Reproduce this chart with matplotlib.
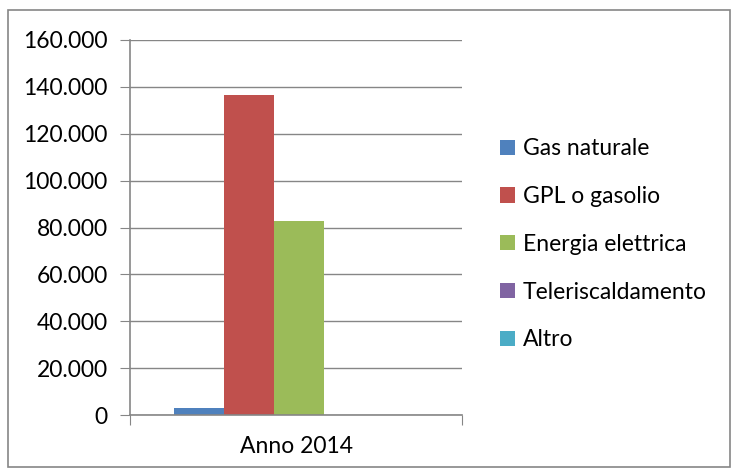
import matplotlib.pyplot as plt
from matplotlib.patches import Rectangle

plt.rcParams['font.family'] = ['Lato', 'DejaVu Sans']

category = "Anno 2014"
series = ["Gas naturale", "GPL o gasolio", "Energia elettrica",
          "Teleriscaldamento", "Altro"]
values = [3000, 136500, 82700, 0, 0]
colors = ["#4F81BD", "#C0504D", "#9BBB59", "#8064A2", "#4BACC6"]
yticks = [0, 20000, 40000, 60000, 80000, 100000, 120000, 140000, 160000]


def main():
    W, H = 738, 475
    fig = plt.figure(figsize=(W / 100, H / 100), dpi=100)
    # outer chart border
    fig.patches.append(Rectangle((8 / W, 8 / H), 722 / W, 457 / H,
                                 transform=fig.transFigure, fill=False,
                                 edgecolor="#868686", linewidth=1.2))

    ax = fig.add_axes([130 / W, 60 / H, 332 / W, 375 / H])
    width = 50 / 332
    start = 44 / 332
    for i, (name, v, c) in enumerate(zip(series, values, colors)):
        ax.bar(start + width * (i + 0.5), v, width=width, color=c,
               label=name, linewidth=0)

    ax.set_xlim(0, 1)
    ax.set_ylim(0, 160000)
    ax.set_yticks(yticks)
    ax.set_yticklabels(["{:,}".format(t).replace(",", ".") for t in yticks],
                       fontsize=16.5)
    ax.yaxis.grid(True, color="#868686", linewidth=1)
    ax.set_axisbelow(True)
    ax.set_xticks([0, 1])
    ax.set_xticklabels(["", ""])
    ax.tick_params(axis="y", length=7, color="#868686", pad=9)
    ax.tick_params(axis="x", length=7, color="#868686")
    ax.text(0.5, -0.085, category, transform=ax.transAxes, ha="center",
            va="center", fontsize=16.5)
    for s in ["top", "right"]:
        ax.spines[s].set_visible(False)
    for s in ["left", "bottom"]:
        ax.spines[s].set_color("#868686")
        ax.spines[s].set_linewidth(1.2)

    ax.legend(loc="center left", bbox_to_anchor=(1.115, 0.455),
              frameon=False, fontsize=16.5, handlelength=0.65,
              handleheight=0.65, labelspacing=1.17, handletextpad=0.35,
              borderaxespad=0, borderpad=0)

    fig.savefig("out.png", dpi=100)


if __name__ == '__main__':
    main()
